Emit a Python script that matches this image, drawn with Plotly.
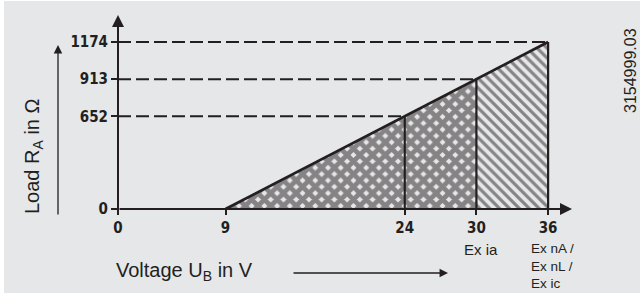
import plotly.graph_objects as go

# ---- data ----
voltage = [9, 24, 30, 36]          # V
load = [0, 652, 913, 1174]         # Ohm
x_ticks = [0, 9, 24, 30, 36]
y_ticks = [0, 652, 913, 1174]
label_ia = "Ex ia"
label_n = ["Ex nA /", "Ex nL /", "Ex ic"]

BG = "#e6e7e9"
INK = "#231f20"
W, H = 640, 298
L, R, T, B = 118, 68, 15, 89
XMAX, YMAX = 38, 1364
TICKFONT = dict(family="Liberation Sans Narrow, DejaVu Sans Condensed, Arial", size=15,
                color=INK, weight="bold")
TXT = dict(family="Liberation Sans, Arial", color=INK)

def px(xp):
    return (xp - L) / (W - L - R)

def py(yp):
    return (H - B - yp) / (H - T - B)

fig = go.Figure()

# crosshatched region 9..30
fig.add_trace(go.Scatter(
    x=[voltage[0], voltage[2], voltage[2], voltage[0]],
    y=[0, 0, load[2], 0],
    mode="lines", fill="toself", line=dict(width=0),
    fillcolor=BG,
    fillpattern=dict(shape="x", size=9, solidity=0.78, fgcolor=INK, bgcolor=BG),
    hoverinfo="skip", showlegend=False))
# diagonal region 30..36
fig.add_trace(go.Scatter(
    x=[voltage[2], voltage[3], voltage[3], voltage[2], voltage[2]],
    y=[0, 0, load[3], load[2], 0],
    mode="lines", fill="toself", line=dict(width=0),
    fillcolor=BG,
    fillpattern=dict(shape="\\", size=7, solidity=0.45, fgcolor=INK, bgcolor=BG),
    hoverinfo="skip", showlegend=False))

# dashed guide lines
for v, l in zip(voltage[1:], load[1:]):
    fig.add_trace(go.Scatter(x=[0, v], y=[l, l], mode="lines",
                             line=dict(color=INK, width=2, dash="13px,5px"),
                             hoverinfo="skip", showlegend=False))
# verticals
for v, l in zip(voltage[1:], load[1:]):
    fig.add_trace(go.Scatter(x=[v, v], y=[0, l], mode="lines",
                             line=dict(color=INK, width=2.2),
                             hoverinfo="skip", showlegend=False))
# sloped boundary
fig.add_trace(go.Scatter(x=voltage, y=load, mode="lines",
                         line=dict(color=INK, width=2.8),
                         hoverinfo="skip", showlegend=False))

ann = []
# axis arrows
ann.append(dict(x=XMAX, y=0, ax=0, ay=0, xref="x", yref="y", axref="x", ayref="y",
                showarrow=True, arrowhead=2, arrowsize=1.2, arrowwidth=2, arrowcolor=INK, text=""))
ann.append(dict(x=0, y=YMAX, ax=0, ay=-25, xref="x", yref="y", axref="x", ayref="y",
                showarrow=True, arrowhead=2, arrowsize=1.2, arrowwidth=2, arrowcolor=INK, text=""))
# zone labels
ann.append(dict(x=px(481), y=py(250), xref="paper", yref="paper", text=label_ia,
                showarrow=False, font=dict(size=15, **TXT), xanchor="center", yanchor="middle"))
ann.append(dict(x=px(530), y=py(240), xref="paper", yref="paper", text="<br>".join(label_n),
                showarrow=False, font=dict(size=13.5, **TXT), xanchor="left", yanchor="top",
                align="left", borderpad=0))
# x title + arrow
ann.append(dict(x=px(114), y=py(271), xref="paper", yref="paper", text="Voltage U<sub>B</sub> in V",
                showarrow=False, font=dict(size=20, **TXT), xanchor="left", yanchor="middle"))
ann.append(dict(x=px(448), y=py(273), ax=-156, ay=0, xref="paper", yref="paper",
                axref="pixel", ayref="pixel", showarrow=True, arrowhead=2, arrowsize=1.3,
                arrowwidth=1.3, arrowcolor=INK, text=""))
# y title + arrow
ann.append(dict(x=px(33), y=py(156), xref="paper", yref="paper", text="Load R<sub>A</sub> in Ω",
                textangle=-90, showarrow=False, font=dict(size=20, **TXT),
                xanchor="center", yanchor="middle"))
ann.append(dict(x=px(58), y=py(45), ax=0, ay=171, xref="paper", yref="paper",
                axref="pixel", ayref="pixel", showarrow=True, arrowhead=2, arrowsize=1.3,
                arrowwidth=1.3, arrowcolor=INK, text=""))
# doc number
ann.append(dict(x=px(630), y=py(71), xref="paper", yref="paper", text="3154999.03",
                textangle=-90, showarrow=False, font=dict(size=16, **TXT),
                xanchor="center", yanchor="middle"))

shapes = [dict(type="rect", xref="paper", yref="paper", x0=px(4), x1=px(641), y0=py(293), y1=py(1),
               fillcolor=BG, line=dict(width=0), layer="below")]

fig.update_layout(
    width=W, height=H, margin=dict(l=L, r=R, t=T, b=B),
    paper_bgcolor="white", plot_bgcolor="rgba(0,0,0,0)",
    annotations=ann, shapes=shapes, showlegend=False,
    xaxis=dict(range=[0, XMAX], tickvals=x_ticks, ticktext=[str(v) for v in x_ticks],
               ticks="outside", ticklen=5, tickwidth=1.5, tickcolor=INK,
               showgrid=False, zeroline=False, showline=False, tickfont=TICKFONT, fixedrange=True),
    yaxis=dict(range=[0, YMAX], tickvals=y_ticks, ticktext=[str(v) for v in y_ticks],
               ticks="outside", ticklen=6, tickwidth=1.5, tickcolor=INK,
               showgrid=False, zeroline=False, showline=False, tickfont=TICKFONT, fixedrange=True),
)

fig.write_html("out.html", config={"displayModeBar": False},
               post_script="document.body.style.margin='0';")
